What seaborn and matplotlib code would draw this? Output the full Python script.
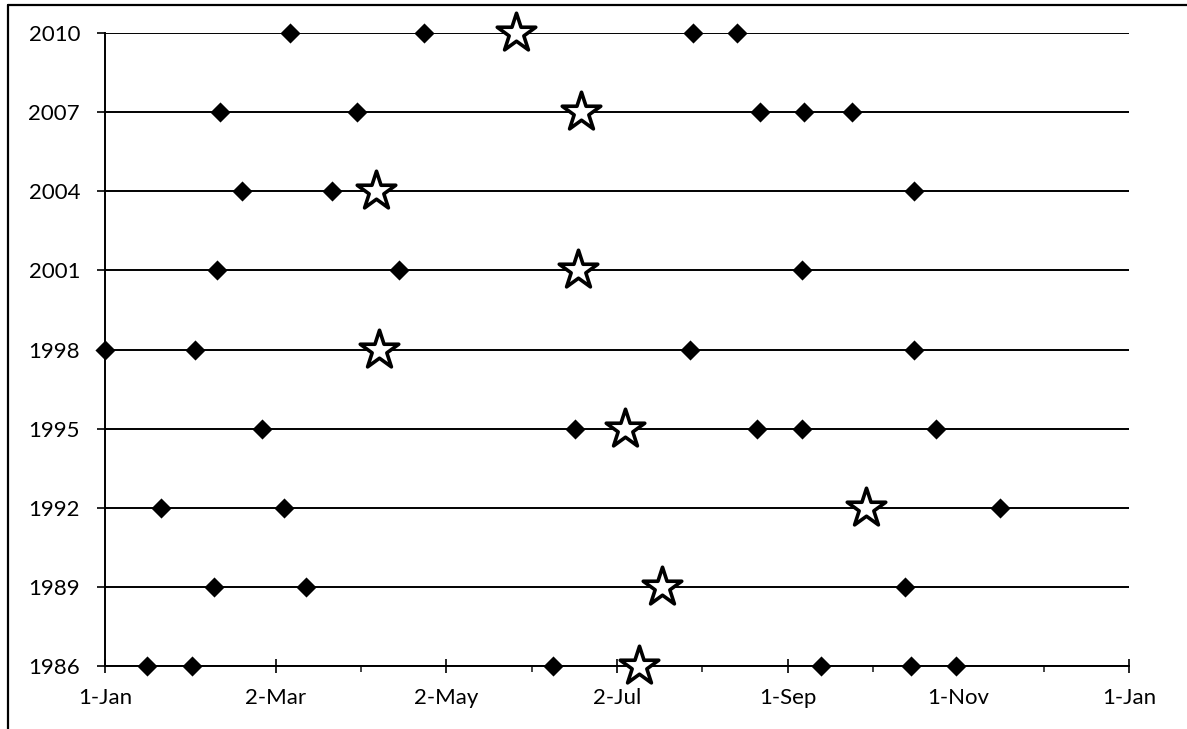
import matplotlib as mpl
import matplotlib.pyplot as plt
from matplotlib.lines import Line2D
from matplotlib.ticker import MultipleLocator
import seaborn as sns
import pandas as pd

sns.set_style('white')
plt.rcParams['font.family'] = ['Lato', 'DejaVu Sans']
plt.rcParams['xtick.labelsize'] = 16
plt.rcParams['ytick.labelsize'] = 16

# rows of the chart (one per year), values are day of year (0 = 1-Jan)
years = [1986, 1989, 1992, 1995, 1998, 2001, 2004, 2007, 2010]
diamond_days = {
    2010: [66, 114, 210, 226],
    2007: [41, 90, 234, 250, 267],
    2004: [49, 81, 289],
    2001: [40, 105, 249],
    1998: [0, 32, 209, 289],
    1995: [56, 168, 233, 249, 297],
    1992: [20, 64, 320],
    1989: [39, 72, 286],
    1986: [15, 31, 160, 256, 288, 304],
}
star_days = {
    2010: 147, 2007: 170, 2004: 97, 2001: 169, 1998: 98,
    1995: 186, 1992: 272, 1989: 199, 1986: 191,
}
tick_days = [0, 61, 122, 183, 244, 305, 366]
tick_labels = ['1-Jan', '2-Mar', '2-May', '2-Jul', '1-Sep', '1-Nov', '1-Jan']

dia = pd.DataFrame([(y, d) for y in years for d in diamond_days[y]], columns=['year', 'day'])
star = pd.DataFrame([(y, star_days[y]) for y in years], columns=['year', 'day'])

fig = plt.figure(figsize=(11.87, 7.29), dpi=100)
ax = fig.add_axes([105/1187, 1 - 666/729, (1129 - 105)/1187, (666 - 33)/729])

# horizontal line for every year
ax.hlines(years, tick_days[0], tick_days[-1], color='black', linewidth=1.4, zorder=1)

sns.scatterplot(data=dia, x='day', y='year', marker='D', color='black', s=105,
                edgecolor='black', linewidth=0, ax=ax, zorder=3, clip_on=False)
sns.scatterplot(data=star, x='day', y='year', marker='*', color='white', s=850,
                edgecolor='black', linewidth=2.6, ax=ax, zorder=4, clip_on=False)

ax.set_xlim(tick_days[0], tick_days[-1])
ax.set_ylim(years[0], years[-1])
ax.set_xticks(tick_days)
ax.set_xticklabels(tick_labels, fontsize=16)
ax.xaxis.set_minor_locator(MultipleLocator(30.5))
ax.set_yticks(years)
ax.set_yticklabels([str(y) for y in years], fontsize=16)
ax.set_xlabel('')
ax.set_ylabel('')

for s in ['top', 'right']:
    ax.spines[s].set_visible(False)
for s in ['left', 'bottom']:
    ax.spines[s].set_linewidth(1.4)
    ax.spines[s].set_color('black')

ax.tick_params(axis='x', which='major', direction='inout', length=10, width=1.2,
               pad=11, colors='black', bottom=True)
ax.tick_params(axis='x', which='minor', direction='out', length=4, width=1.2, bottom=True)
ax.tick_params(axis='y', which='major', direction='out', length=6, width=1.2,
               pad=12, colors='black', left=True)

# outer chart border (top and left edges visible in the picture)
fig.add_artist(Line2D([8/1187, 8/1187], [0, 1 - 5/729], color='black', linewidth=1.6))
fig.add_artist(Line2D([8/1187, 1], [1 - 5/729, 1 - 5/729], color='black', linewidth=1.6))

fig.savefig('out.png', dpi=100)
